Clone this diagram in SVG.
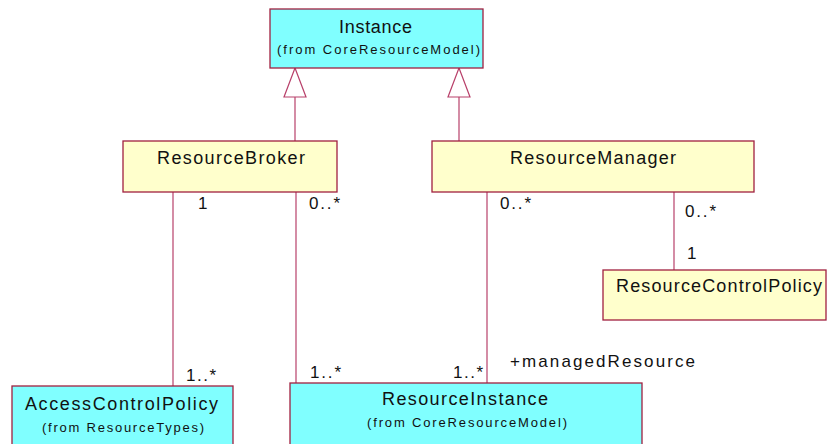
<svg xmlns="http://www.w3.org/2000/svg" width="827" height="444" viewBox="0 0 827 444">
<style>
.cyan{fill:#80FFFF;stroke:#A0203F;stroke-width:1.3}
.yel{fill:#FFFFCC;stroke:#A0203F;stroke-width:1.3}
.t{font-family:"Liberation Sans",Arial,sans-serif;font-size:18px;fill:#111}
.l{font-family:"Liberation Sans",Arial,sans-serif;font-size:17px;fill:#111}
.s{font-family:"Liberation Sans",Arial,sans-serif;font-size:13px;fill:#111}
.c line{stroke:#B8406A;stroke-width:1.2}
.c polygon{fill:#fff;stroke:#B8406A;stroke-width:1.2}
</style>
<rect width="827" height="444" fill="#fff"/>
<g class="c" id="connectors">
<line x1="295" y1="97" x2="295" y2="141"/>
<polygon points="295,68 284,97 306,97"/>
<line x1="459" y1="97" x2="459" y2="141"/>
<polygon points="459,68 448,97 470,97"/>
<line x1="173" y1="192" x2="173" y2="386"/>
<line x1="296" y1="192" x2="296" y2="383"/>
<line x1="487" y1="192" x2="487" y2="383"/>
<line x1="674" y1="192" x2="674" y2="270"/>
</g>
<g id="labels">
<text class="l" x="198" y="209">1</text>
<text class="l" x="309" y="209" textLength="31" lengthAdjust="spacing">0..*</text>
<text class="l" x="500" y="209" textLength="31" lengthAdjust="spacing">0..*</text>
<text class="l" x="685" y="217" textLength="31" lengthAdjust="spacing">0..*</text>
<text class="l" x="687" y="259">1</text>
<text class="l" x="186" y="381" textLength="30" lengthAdjust="spacing">1..*</text>
<text class="l" x="310" y="378" textLength="31" lengthAdjust="spacing">1..*</text>
<text class="l" x="453" y="378" textLength="30" lengthAdjust="spacing">1..*</text>
<text class="l" x="510" y="367" textLength="185" lengthAdjust="spacing">+managedResource</text>
</g>
<g id="Instance">
<rect class="cyan" x="270" y="9" width="213" height="59"/>
<text class="t" x="339" y="32.5" textLength="73" lengthAdjust="spacing">Instance</text>
<text class="s" x="277" y="54" textLength="203" lengthAdjust="spacing">(from CoreResourceModel)</text>
</g>
<g id="ResourceBroker">
<rect class="yel" x="123" y="141" width="214" height="51"/>
<text class="t" x="157" y="164" textLength="148" lengthAdjust="spacing">ResourceBroker</text>
</g>
<g id="ResourceManager">
<rect class="yel" x="432" y="141" width="322" height="51"/>
<text class="t" x="510" y="164" textLength="166" lengthAdjust="spacing">ResourceManager</text>
</g>
<g id="ResourceControlPolicy">
<rect class="yel" x="603" y="270" width="223" height="50"/>
<text class="t" x="616" y="292" textLength="206" lengthAdjust="spacing">ResourceControlPolicy</text>
</g>
<g id="AccessControlPolicy">
<rect class="cyan" x="12" y="386" width="221" height="70"/>
<text class="t" x="25" y="410" textLength="193" lengthAdjust="spacing">AccessControlPolicy</text>
<text class="s" x="42" y="432" textLength="162" lengthAdjust="spacing">(from ResourceTypes)</text>
</g>
<g id="ResourceInstance">
<rect class="cyan" x="290" y="383" width="352" height="73"/>
<text class="t" x="382" y="405" textLength="166" lengthAdjust="spacing">ResourceInstance</text>
<text class="s" x="367" y="427" textLength="200" lengthAdjust="spacing">(from CoreResourceModel)</text>
</g>
</svg>
